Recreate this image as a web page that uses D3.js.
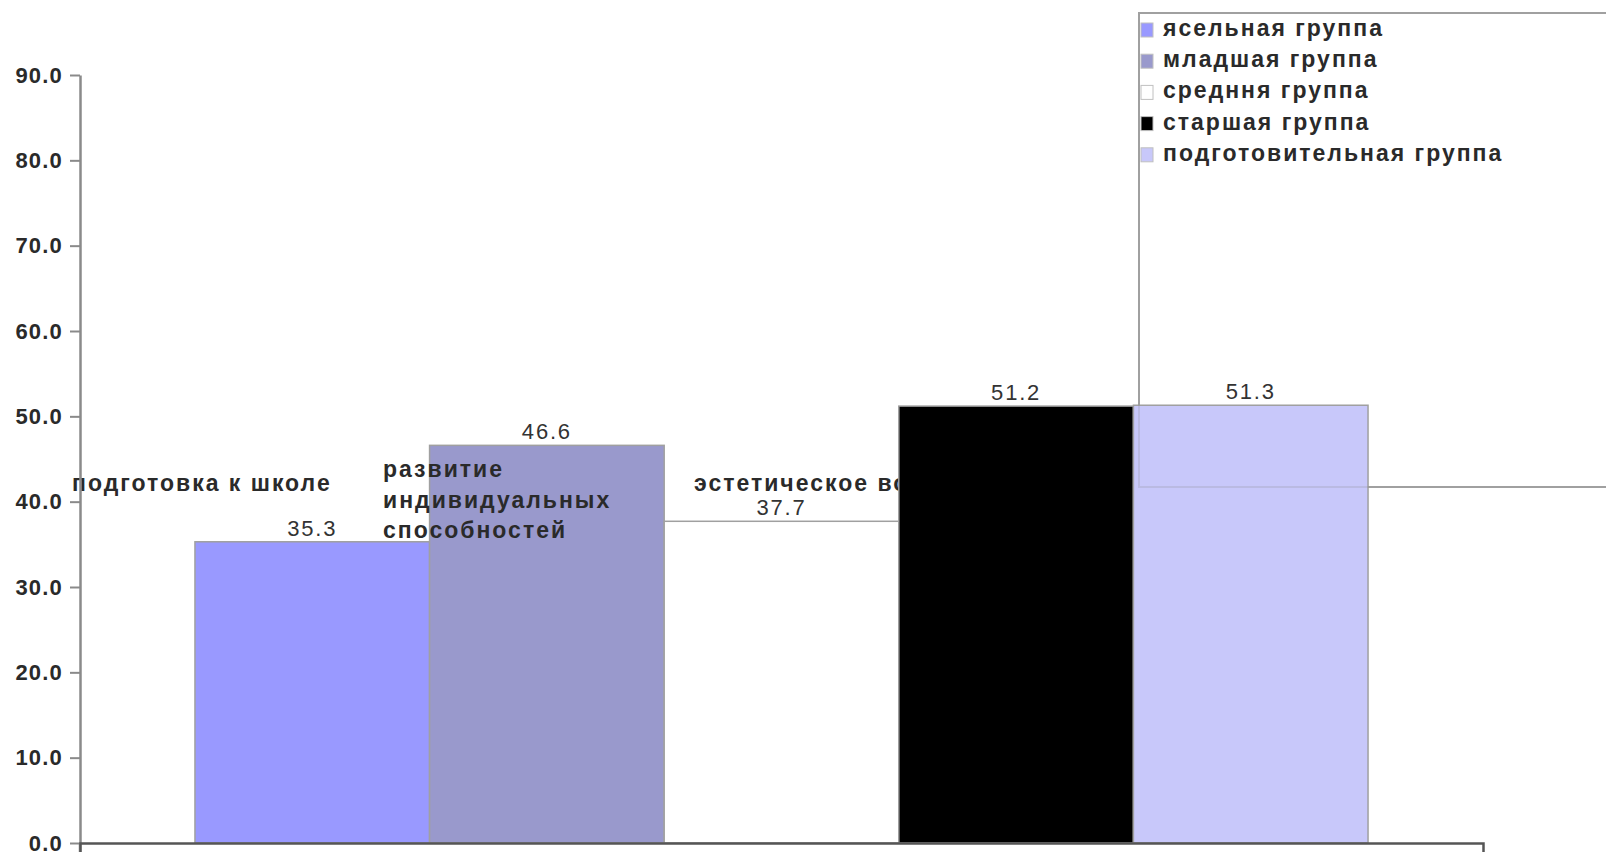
<!DOCTYPE html>
<html>
<head>
<meta charset="utf-8">
<script src="https://cdn.jsdelivr.net/npm/d3@7"></script>
<style>
  body { margin: 0; background: #fff; }
  svg text { font-family: "Liberation Sans", Arial, sans-serif; }
</style>
</head>
<body>
<div id="chart"></div>
<script>
// 1. Data
const groups = ["ясельная группа", "младшая группа", "средння группа", "старшая группа", "подготовительная группа"];
const values = [35.3, 46.6, 37.7, 51.2, 51.3];
const colors = ["#9999ff", "#9999cc", "#ffffff", "#000000", "#c8c8fa"];
const categories = [["подготовка к школе"], ["развитие", "индивидуальных", "способностей"], ["эстетическое воспитание"]];
const yTicks = [0, 10, 20, 30, 40, 50, 60, 70, 80, 90];

// 2. Margins / size
const WIDTH = 1606, HEIGHT = 852;
const margin = { top: 75, right: 123, bottom: 9, left: 80 };
const plotBottom = HEIGHT - margin.bottom;

// text looks like an upscaled raster, so it is big and a bit spread out
const labelFont = { size: 23, weight: "bold", spacing: 2, fill: "#2a2a2a" };
const tickFont = { size: 22, weight: "bold", spacing: 1.2, fill: "#2a2a2a" };

const svg = d3.select("#chart").append("svg")
    .attr("width", WIDTH)
    .attr("height", HEIGHT);

// 3. Scales
const x = d3.scaleBand()
    .domain(groups)
    .range([margin.left, WIDTH - margin.right])
    .paddingInner(0)
    .paddingOuter(0.49);

const y = d3.scaleLinear()
    .domain([0, 90])
    .range([plotBottom, margin.top]);

// category labels sit on a point scale (they ended up in the middle of the plot)
const catX = d3.scalePoint()
    .domain(categories.map(d => d.join(" ")))
    .range([72, 694]);

function styleText(sel, f) {
    sel.attr("font-size", f.size)
        .attr("font-weight", f.weight)
        .attr("letter-spacing", f.spacing)
        .attr("fill", f.fill);
}

// 4. Legend box (drawn first so the last bar sits over it)
const legend = { x: 1139, y: 13, w: 520, h: 474 };
svg.append("rect")
    .attr("x", legend.x).attr("y", legend.y)
    .attr("width", legend.w).attr("height", legend.h)
    .attr("fill", "none")
    .attr("stroke", "#a8a8a8")
    .attr("stroke-width", 2);

// 5. Bars
function drawBars(idx) {
    svg.selectAll(null)
        .data(idx)
        .enter()
        .append("rect")
        .attr("x", i => x(groups[i]))
        .attr("y", i => y(values[i]))
        .attr("width", x.bandwidth())
        .attr("height", i => y(0) - y(values[i]))
        .attr("fill", i => colors[i])
        .attr("stroke", "#a0a0a0")
        .attr("stroke-width", 1.5);
}
drawBars([0, 1, 2]);

// category labels (between the bars, the black bar covers the third one)
categories.forEach(lines => {
    const cx = catX(lines.join(" "));
    const t = svg.append("text")
        .attr("x", cx)
        .attr("y", 485 - (lines.length - 1) * 7)
        .attr("dominant-baseline", "middle")
        .call(styleText, labelFont);
    lines.forEach((l, k) => {
        t.append("tspan")
            .attr("x", cx)
            .attr("dy", k === 0 ? 0 : 30.5)
            .text(l);
    });
});

drawBars([3, 4]);

// legend border shows faintly through the last bar
svg.append("rect")
    .attr("x", legend.x).attr("y", legend.y)
    .attr("width", legend.w).attr("height", legend.h)
    .attr("fill", "none")
    .attr("stroke", "#808080")
    .attr("stroke-opacity", 0.2)
    .attr("stroke-width", 2);

// value labels
svg.selectAll(".value")
    .data(values)
    .enter()
    .append("text")
    .attr("class", "value")
    .attr("x", (d, i) => x(groups[i]) + x.bandwidth() / 2)
    .attr("y", d => y(d) - 6)
    .attr("text-anchor", "middle")
    .call(styleText, { size: 22, weight: "normal", spacing: 1.8, fill: "#333" })
    .text(d => d.toFixed(1));

// 6. Legend items
const item = svg.selectAll(".legend-item")
    .data(groups)
    .enter()
    .append("g")
    .attr("class", "legend-item")
    .attr("transform", (d, i) => `translate(${legend.x + 2},${30 + i * 31.2})`);

item.append("rect")
    .attr("x", 0).attr("y", -7)
    .attr("width", 12).attr("height", 14)
    .attr("fill", (d, i) => colors[i])
    .attr("stroke", "#c0c0c0")
    .attr("stroke-width", 1);

item.append("text")
    .attr("x", 22)
    .attr("dominant-baseline", "middle")
    .call(styleText, labelFont)
    .text(d => d);

// 7. Axes
const yAxis = d3.axisLeft(y)
    .tickValues(yTicks)
    .tickFormat(d3.format(".1f"))
    .tickSize(10)
    .tickSizeOuter(0)
    .tickPadding(7);

const gy = svg.append("g")
    .attr("transform", `translate(${margin.left},0)`)
    .call(yAxis);
gy.select(".domain").attr("stroke", "#8a8a8a").attr("stroke-width", 2.5);
gy.selectAll(".tick line").attr("stroke", "#8a8a8a").attr("stroke-width", 2);
gy.selectAll(".tick text")
    .attr("font-family", null)
    .call(styleText, tickFont);

// y axis runs a little past the x axis
svg.append("line")
    .attr("x1", margin.left).attr("x2", margin.left)
    .attr("y1", y(0)).attr("y2", HEIGHT)
    .attr("stroke", "#8a8a8a").attr("stroke-width", 2.5);

const xAxis = d3.axisBottom(x)
    .tickValues([])
    .tickSizeOuter(10);

const gx = svg.append("g")
    .attr("transform", `translate(0,${y(0)})`)
    .call(xAxis);
gx.select(".domain").attr("stroke", "#555").attr("stroke-width", 2.5);
</script>
</body>
</html>
